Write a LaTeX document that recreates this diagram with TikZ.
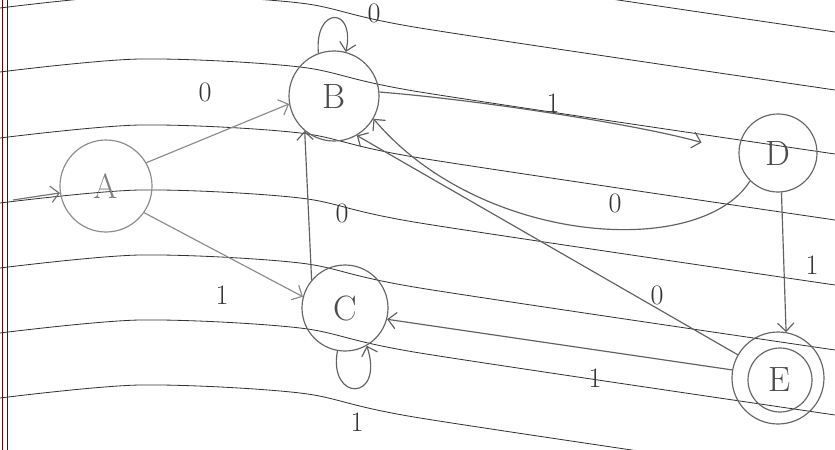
\documentclass[tikz,border=0pt]{standalone}
\usetikzlibrary{arrows.meta}
\begin{document}
\begin{tikzpicture}[x=0.03cm,y=-0.03cm,
  state/.style={circle,draw=black!60,line width=1pt,inner sep=0pt,
    font=\fontsize{30}{32}\selectfont,text=black!70},
  edge/.style={draw=black!62,line width=1pt,-{Straight Barb[length=7pt,width=14pt]}},
  lbl/.style={font=\fontsize{24}{26}\selectfont,text=black!80},
  rule/.style={draw=black!80,line width=0.7pt},
  margin/.style={draw=red!45!black,line width=0.8pt}]
\useasboundingbox (0,0) rectangle (835,450);
% ruled paper
\foreach \y in {-50,8,72,138,203,268,333,398}
  \draw[rule] plot[smooth] coordinates {(0,\y) (140,\y-13) (300,\y-5) (420,\y+20) (835,\y+82)};
\draw[margin] (2,0) -- (2,450);
\draw[margin] (7,0) -- (7,450);
% states
\node[state,minimum size=2.76cm,draw=black!45,text=black!50] (A) at (106,186) {A};
\node[state,minimum size=2.7cm] (B) at (334,96) {B};
\node[state,minimum size=2.58cm] (C) at (345,308) {C};
\node[state,minimum size=2.34cm] (D) at (778,153) {D};
\node[state,minimum size=2.76cm] (E) at (778,378) {};
\node[state,minimum size=1.92cm] (Ein) at (780,380) {E};
% start
\coordinate (s) at (13,200);
\draw[edge,draw=black!55] (s) -- (A);
% edges
\draw[edge,draw=black!45] (A.30) -- (B.190);
\draw[edge,draw=black!45] (A.-35) -- (C.165);
\draw[edge] (B.110) .. controls (314,6) and (356,6) .. (B.75);
\draw[edge,shorten >=1.15cm] (B.5) .. controls (480,100) and (640,125) .. (D.west);
\draw[edge] (D.225) .. controls (700,260) and (480,245) .. (B.-30);
\draw[edge] (E.150) -- (B.-60);
\draw[edge] (C.140) -- (B.-130);
\draw[edge] (C.-100) .. controls (328,402) and (385,402) .. (C.-60);
\draw[edge] (D.-85) -- (E.80);
\draw[edge] (E.170) -- (C.-15);
% labels
\node[lbl] (l0) at (374,13) {0};
\node[lbl] (lab) at (205,92) {0};
\node[lbl] (lac) at (222,295) {1};
\node[lbl] (lbd) at (553,103) {1};
\node[lbl] (ldb) at (615,203) {0};
\node[lbl] (leb) at (657,295) {0};
\node[lbl] (lcb) at (342,213) {0};
\node[lbl] (lcc) at (357,422) {1};
\node[lbl] (lde) at (812,265) {1};
\node[lbl] (lec) at (595,378) {1};
\end{tikzpicture}
\end{document}
